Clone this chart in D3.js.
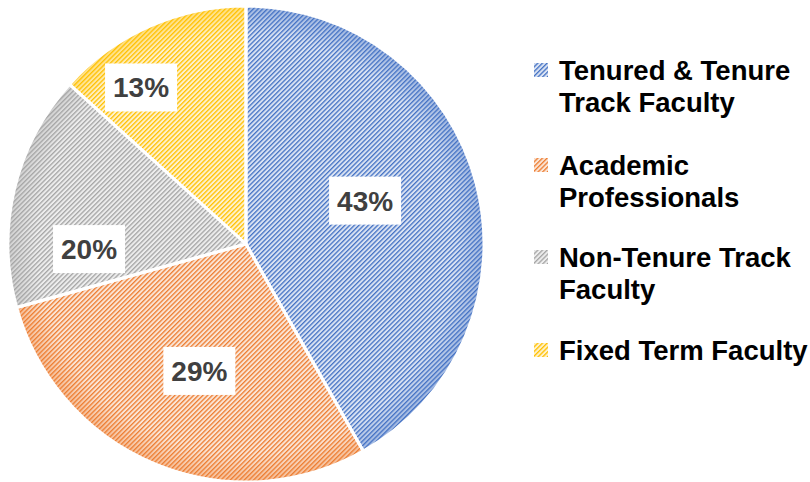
<!DOCTYPE html>
<meta charset="utf-8">
<title>Faculty Composition</title>
<script src="https://d3js.org/d3.v7.min.js"></script>
<style>
  body { margin: 0; background: #fff; }
  text { font-family: "Liberation Sans", Arial, sans-serif; font-weight: bold; }
  text.pct { font-size: 28px; fill: #404040; }
  text.legend { font-size: 27.5px; fill: #000; }
</style>
<div id="chart"></div>
<script>
// data
var categories = ["Tenured & Tenure Track Faculty", "Academic Professionals", "Non-Tenure Track Faculty", "Fixed Term Faculty"];
var shares = [41.8, 28.9, 16.0, 13.3];          // slice sizes as drawn
var pctLabels = ["43%", "29%", "20%", "13%"];    // labels as printed
var legendLines = [["Tenured & Tenure", "Track Faculty"], ["Academic", "Professionals"], ["Non-Tenure Track", "Faculty"], ["Fixed Term Faculty"]];

var lineColors = ["#4472c4", "#ed7d31", "#a5a5a5", "#ffc000"];
var fillColors = ["#dae3f3", "#fbe5d6", "#ededed", "#fff2cc"];

var width = 810, height = 482;
var cx = 246, cy = 244, radius = 238;

var svg = d3.select("#chart").append("svg")
    .attr("width", width)
    .attr("height", height);

var defs = svg.append("defs");

// hatched fills, like Excel's light upward diagonal
var step = 3.3;
categories.forEach(function(c, i) {
  var p = defs.append("pattern")
      .attr("id", "hatch" + i)
      .attr("patternUnits", "userSpaceOnUse")
      .attr("width", step)
      .attr("height", step)
      .attr("patternTransform", "rotate(45)");
  p.append("rect").attr("width", step).attr("height", step).attr("fill", fillColors[i]);
  p.append("rect").attr("width", 1.3).attr("height", step).attr("fill", lineColors[i]);

  var g = defs.append("radialGradient")
      .attr("id", "rim" + i)
      .attr("gradientUnits", "userSpaceOnUse")
      .attr("cx", 0).attr("cy", 0).attr("r", radius);
  g.append("stop").attr("offset", "0.88").attr("stop-color", lineColors[i]).attr("stop-opacity", 0);
  g.append("stop").attr("offset", "1").attr("stop-color", lineColors[i]).attr("stop-opacity", 0.4);
});

var pie = d3.pie().sort(null).value(function(d) { return d; });
var arcs = pie(shares);

var arc = d3.arc().innerRadius(0).outerRadius(radius);
var labelArc = d3.arc().innerRadius(radius * 0.6).outerRadius(radius * 0.6);

var g = svg.append("g").attr("transform", "translate(" + cx + "," + cy + ")");

g.selectAll("path.slice")
  .data(arcs)
  .enter().append("path")
    .attr("class", "slice")
    .attr("d", arc)
    .attr("fill", function(d, i) { return "url(#hatch" + i + ")"; });

g.selectAll("path.rim")
  .data(arcs)
  .enter().append("path")
    .attr("class", "rim")
    .attr("d", arc)
    .attr("fill", function(d, i) { return "url(#rim" + i + ")"; });

// white separators
g.selectAll("path.sep")
  .data(arcs)
  .enter().append("path")
    .attr("class", "sep")
    .attr("d", arc)
    .attr("fill", "none")
    .attr("stroke", "#fff")
    .attr("stroke-width", 3)
    .attr("stroke-linejoin", "round");

// label boxes (Excel moved them a bit off the centroid)
var nudge = [[-19, -7], [8, -5], [-18, 38], [-47, -26]];
var lab = g.selectAll("g.lab")
  .data(arcs)
  .enter().append("g")
    .attr("class", "lab")
    .attr("transform", function(d, i) {
      var c = labelArc.centroid(d);
      return "translate(" + (c[0] + nudge[i][0]) + "," + (c[1] + nudge[i][1]) + ")";
    });

lab.append("rect")
  .attr("x", -36).attr("y", -24)
  .attr("width", 72).attr("height", 48)
  .attr("fill", "#fff");

lab.append("text")
  .attr("class", "pct")
  .attr("text-anchor", "middle")
  .attr("y", 10)
  .text(function(d, i) { return pctLabels[i]; });

// legend
var itemY = [80, 175, 267, 360];
var legend = svg.append("g").selectAll("g")
  .data(categories)
  .enter().append("g")
    .attr("transform", function(d, i) { return "translate(534," + itemY[i] + ")"; });

legend.append("rect")
  .attr("x", 0).attr("y", -17)
  .attr("width", 14).attr("height", 14)
  .attr("fill", function(d, i) { return "url(#hatch" + i + ")"; });

legend.each(function(d, i) {
  var t = d3.select(this).append("text")
    .attr("class", "legend")
    .attr("x", 25);
  legendLines[i].forEach(function(line, j) {
    t.append("tspan").attr("x", 25).attr("y", j * 32).text(line);
  });
});
</script>
